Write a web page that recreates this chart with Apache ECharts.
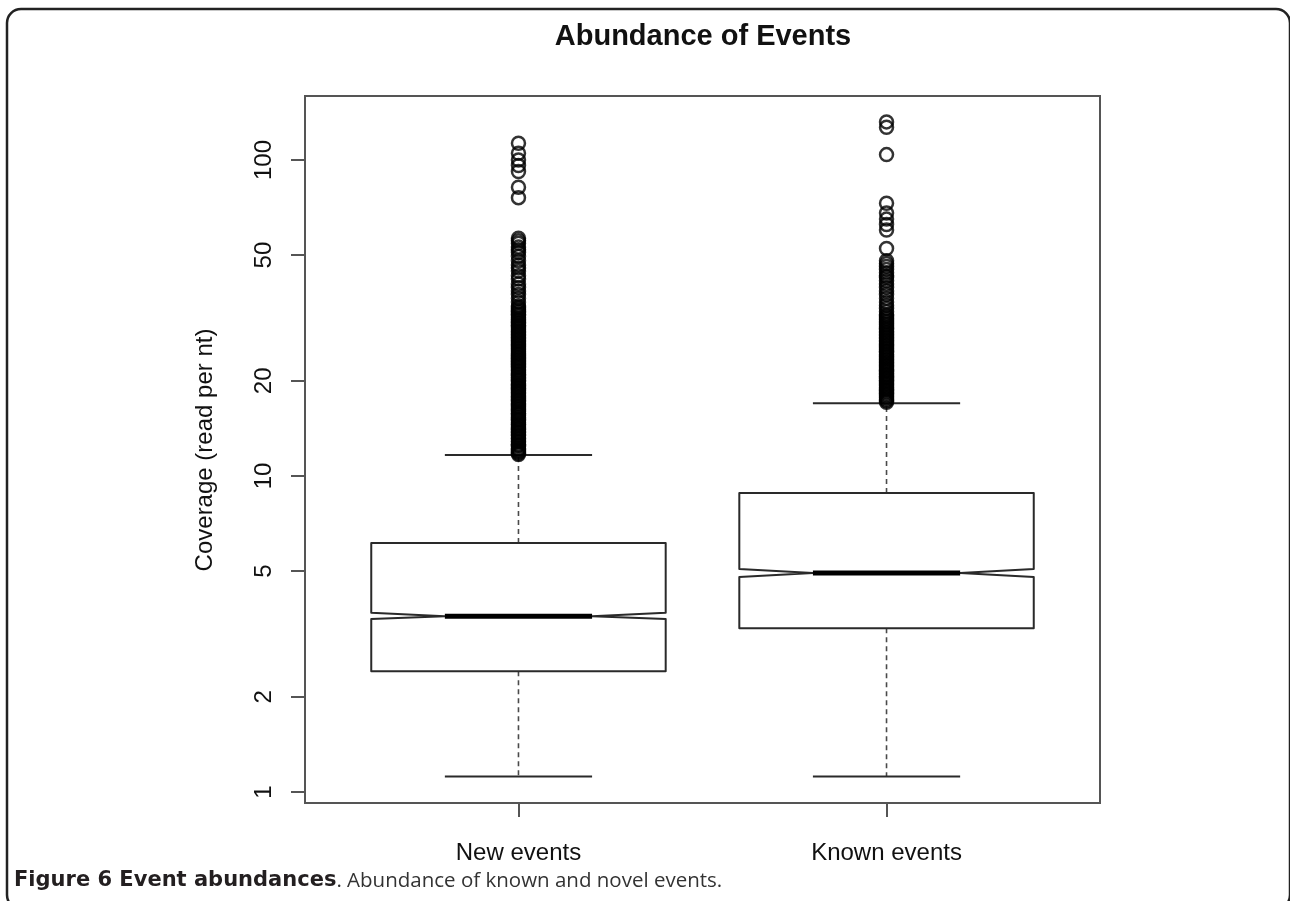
<!DOCTYPE html>
<html>
<head>
<meta charset="utf-8">
<script src="https://cdn.jsdelivr.net/npm/echarts@6/dist/echarts.min.js"></script>
<style>
html, body { margin: 0; padding: 0; background: #ffffff; }
#chart { width: 1290px; height: 901px; }
</style>
</head>
<body>
<div id="chart"></div>
<script>
// ---------- data ----------
const categories = ['New events', 'Known events'];
const whiskerLow = [1.12, 1.12];
const lowerHinge = [2.41, 3.30];
const notchLow = [3.53, 4.79];
const medianValue = [3.60, 4.93];
const notchHigh = [3.69, 5.08];
const upperHinge = [6.14, 8.84];
const whiskerHigh = [11.65, 17.0];

const outliersNew = [
  113, 105, 100, 96, 92, 82, 76,
  56.5, 55.5, 54.5, 53, 52, 51, 49.5, 48, 46.5, 45.5, 44.5, 43, 42, 40.5, 39.5, 38.5, 37.5, 36.5, 35.5,
  34.5, 34.1, 33.7, 33.3, 32.9, 32.5, 32.2, 31.8, 31.4, 31.1, 30.7, 30.4, 30, 29.7, 29.4, 29, 28.7, 28.4,
  28.1, 27.8, 27.5, 27.2, 26.9, 26.6, 26.3, 26, 25.7, 25.4, 25.1, 24.8, 24.5, 24.3, 24, 23.7, 23.5, 23.2,
  23, 22.7, 22.5, 22.2, 22, 21.7, 21.5, 21.2, 21, 20.8, 20.5, 20.3, 20.1, 19.9, 19.6, 19.4, 19.2, 19,
  18.8, 18.6, 18.4, 18.2, 18, 17.8, 17.6, 17.4, 17.2, 17, 16.8, 16.6, 16.4, 16.2, 16, 15.8, 15.7, 15.5,
  15.3, 15.1, 15, 14.8, 14.6, 14.5, 14.3, 14.1, 14, 13.8, 13.7, 13.5, 13.4, 13.2, 13.1, 12.9, 12.8, 12.6,
  12.5, 12.4, 12.2, 12.1, 12, 11.9, 11.8, 11.7
];
const outliersKnown = [
  132, 127, 104,
  73, 68, 65, 62.5, 60, 52.5,
  48, 47, 46, 45, 44, 43, 42.5, 41.5, 40.5, 39.5, 38.5, 37.5, 36.5, 35.5, 34.7, 33.9, 33.1, 32.4,
  32, 31.6, 31.2, 30.8, 30.5, 30.1, 29.8, 29.4, 29.1, 28.7, 28.4, 28.1, 27.8, 27.5, 27.2, 26.9, 26.6,
  26.3, 26, 25.7, 25.4, 25.1, 24.8, 24.6, 24.3, 24, 23.8, 23.5, 23.3, 23, 22.8, 22.5, 22.3, 22.1, 21.8,
  21.6, 21.4, 21.1, 20.9, 20.7, 20.5, 20.3, 20.1, 19.9, 19.7, 19.5, 19.3, 19.1, 18.9, 18.7, 18.5, 18.3,
  18.1, 17.9, 17.7, 17.5, 17.3, 17.1
];
const yTickValues = [1, 2, 5, 10, 20, 50, 100];

const titleText = 'Abundance of Events';
const yAxisTitle = 'Coverage (read per nt)';
const captionBold = 'Figure 6 Event abundances';
const captionRest = '. Abundance of known and novel events.';

// ---------- chart ----------
const chart = echarts.init(document.getElementById('chart'), null, { renderer: 'canvas' });
const catPositions = categories.map((c, i) => i + 1);

function renderBox(params, api) {
  const xv = api.value(0);
  const pt = v => api.coord([xv, v]);
  const cx = pt(api.value(4))[0];
  const halfW = api.coord([xv + 0.4, api.value(4)])[0] - cx;
  const yWL = pt(api.value(1))[1];
  const yQ1 = pt(api.value(2))[1];
  const yNL = pt(api.value(3))[1];
  const yMed = pt(api.value(4))[1];
  const yNH = pt(api.value(5))[1];
  const yQ3 = pt(api.value(6))[1];
  const yWH = pt(api.value(7))[1];
  const capW = halfW * 0.5;
  const notchW = halfW * 0.5;
  const dash = { stroke: '#4a4a4a', lineWidth: 1.6, lineDash: [5, 4] };
  const solid = { stroke: '#2a2a2a', lineWidth: 2 };
  return {
    type: 'group',
    children: [
      { type: 'line', shape: { x1: cx, y1: yQ3, x2: cx, y2: yWH }, style: dash },
      { type: 'line', shape: { x1: cx, y1: yQ1, x2: cx, y2: yWL }, style: dash },
      { type: 'line', shape: { x1: cx - capW, y1: yWH, x2: cx + capW, y2: yWH }, style: solid },
      { type: 'line', shape: { x1: cx - capW, y1: yWL, x2: cx + capW, y2: yWL }, style: solid },
      {
        type: 'polygon',
        shape: {
          points: [
            [cx - halfW, yQ1], [cx - halfW, yNL], [cx - notchW, yMed], [cx - halfW, yNH], [cx - halfW, yQ3],
            [cx + halfW, yQ3], [cx + halfW, yNH], [cx + notchW, yMed], [cx + halfW, yNL], [cx + halfW, yQ1]
          ]
        },
        style: { fill: 'transparent', stroke: '#2a2a2a', lineWidth: 2, lineJoin: 'round' }
      },
      { type: 'line', shape: { x1: cx - notchW, y1: yMed, x2: cx + notchW, y2: yMed }, style: { stroke: '#000', lineWidth: 5 } }
    ]
  };
}

const boxData = categories.map((c, i) => [
  i + 1, whiskerLow[i], lowerHinge[i], notchLow[i], medianValue[i], notchHigh[i], upperHinge[i], whiskerHigh[i]
]);
const outlierData = outliersNew.map(v => [1, v]).concat(outliersKnown.map(v => [2, v]));

const option = {
  animation: false,
  backgroundColor: '#ffffff',
  grid: {
    left: 305, top: 96, width: 795, height: 707,
    show: true, borderColor: '#555', borderWidth: 2, backgroundColor: 'transparent',
    containLabel: false
  },
  xAxis: {
    type: 'value', min: 0.42, max: 2.58,
    axisLine: { show: false },
    splitLine: { show: false },
    axisTick: { show: true, customValues: catPositions, length: 14, lineStyle: { color: '#555', width: 2 } },
    axisLabel: {
      customValues: catPositions,
      formatter: v => categories[Math.round(v) - 1],
      fontSize: 24, color: '#111', margin: 38, fontFamily: 'Liberation Sans'
    }
  },
  yAxis: {
    type: 'log', logBase: 10, min: 0.923, max: 159.4,
    axisLine: { show: false },
    splitLine: { show: false },
    axisTick: { show: true, customValues: yTickValues, length: 14, lineStyle: { color: '#555', width: 2 } },
    axisLabel: {
      customValues: yTickValues,
      formatter: v => String(+(+v).toPrecision(6)),
      rotate: 90, fontSize: 24, color: '#111', margin: 29, fontFamily: 'Liberation Sans'
    }
  },
  series: [
    {
      type: 'custom',
      renderItem: renderBox,
      data: boxData,
      encode: { x: 0, y: [1, 2, 3, 4, 5, 6, 7] },
      clip: false,
      silent: true,
      z: 2
    },
    {
      type: 'scatter',
      data: outlierData,
      symbol: 'circle',
      symbolSize: 13,
      itemStyle: { color: 'transparent', borderColor: '#000', borderWidth: 2.5 },
      silent: true,
      z: 3
    }
  ],
  graphic: [
    {
      type: 'rect', silent: true, z: 0,
      shape: { x: 7, y: 9, width: 1283, height: 900, r: 14 },
      style: { fill: 'none', stroke: '#222', lineWidth: 2.5 }
    },
    {
      type: 'text', silent: true, x: 703, y: 37,
      style: { text: titleText, font: 'bold 29px "Liberation Sans", Arial, sans-serif', fill: '#111', align: 'center', verticalAlign: 'middle' }
    },
    {
      type: 'text', silent: true, x: 205, y: 450, rotation: Math.PI / 2,
      style: { text: yAxisTitle, font: '24px "Liberation Sans", Arial, sans-serif', fill: '#111', align: 'center', verticalAlign: 'middle' }
    },
    {
      type: 'text', silent: true, x: 14, y: 881,
      style: {
        text: '{b|' + captionBold + '}{r|' + captionRest + '}',
        verticalAlign: 'middle', align: 'left',
        rich: {
          b: { fontFamily: 'DejaVu Sans', fontWeight: 'bold', fontSize: 21, fill: '#231f20' },
          r: { fontFamily: 'Open Sans', fontWeight: 'normal', fontSize: 20.5, fill: '#333333' }
        }
      }
    }
  ]
};
chart.setOption(option);
</script>
</body>
</html>
